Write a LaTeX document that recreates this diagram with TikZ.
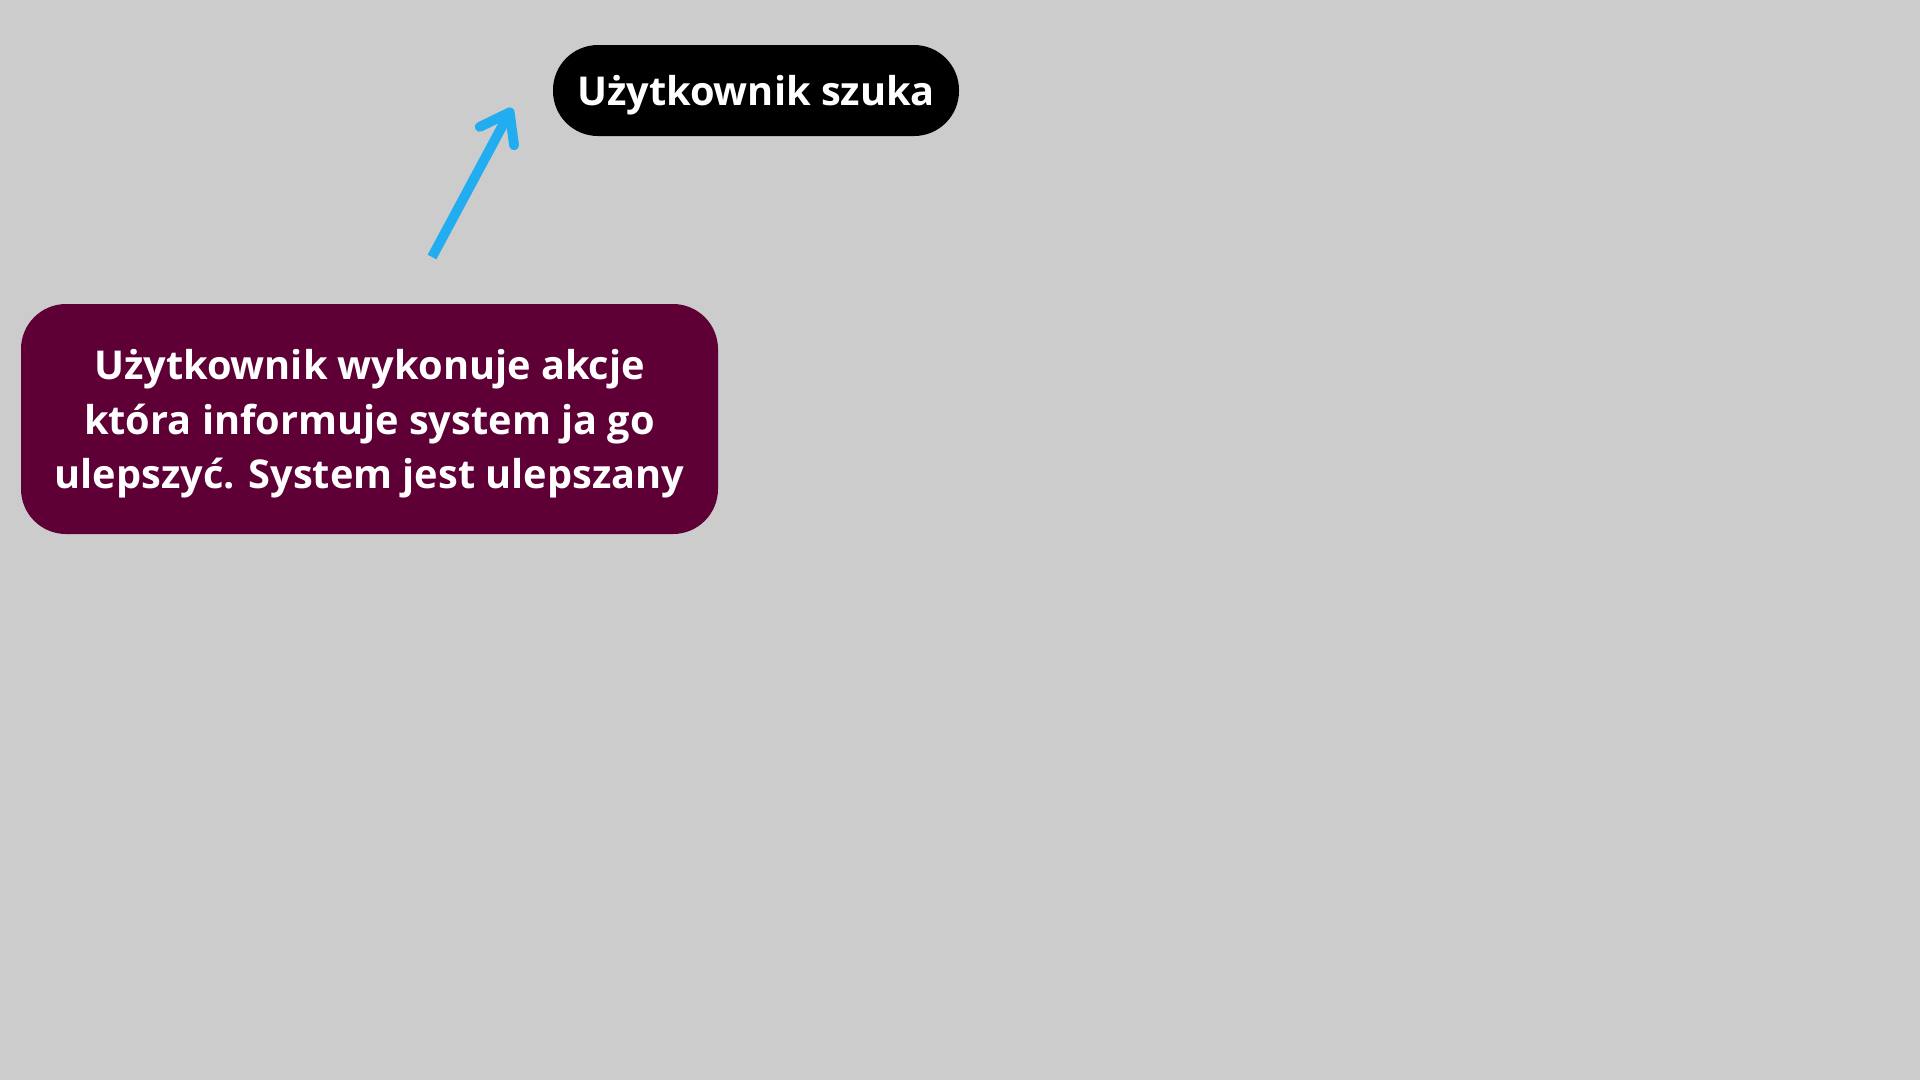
\documentclass[tikz,border=0pt]{standalone}
\usepackage{fontspec}
\setmainfont{Open Sans}
\usetikzlibrary{arrows.meta}
\definecolor{canvas}{HTML}{CCCCCC}
\definecolor{plum}{HTML}{5E0036}
\definecolor{sky}{HTML}{22ADF0}
\tikzset{
x=0.1mm, y=-0.1mm, % one unit is one pixel of the 1920x1080 canvas
stepbox/.style={fill=plum, text=white, rounded corners=4.5mm, font=\bfseries\fontsize{11.3}{15.6}\selectfont, align=center, inner sep=0pt, text depth=0pt}, % the long text box
pill/.style={fill=black, text=white, rounded corners=4.5mm, font=\bfseries\fontsize{11.3}{14}\selectfont, inner sep=0pt, text depth=0pt}, % the short black label
flow/.style={draw=sky, line width=2.8pt, -{Straight Barb[length=2.7mm, width=3.9mm, round]}}, % the blue arrow
}
\begin{document}
\begin{tikzpicture}
    % canvas
    \fill[canvas] (0,0) rectangle (1920,1080);
    % boxes
    \node[pill, minimum width=40.6mm, minimum height=9.1mm] (search) at (756,90.5) {Użytkownik szuka};
    \node[stepbox, minimum width=69.7mm, minimum height=23mm] (improve) at (369.5,419)
        {Użytkownik wykonuje akcje\\ która informuje system ja go\\ ulepszyć. System jest ulepszany};
    % arrow
    \coordinate (tail) at (432,257);
    \coordinate (tip) at (512,108);
    \draw[flow] (tail) -- (tip);
\end{tikzpicture}
\end{document}
